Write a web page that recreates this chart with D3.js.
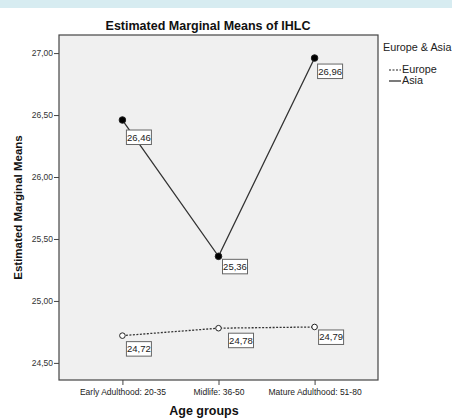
<!DOCTYPE html>
<html><head><meta charset="utf-8">
<script src="https://cdn.jsdelivr.net/npm/d3@7"></script>
<style>html,body{margin:0;padding:0;background:#fff;}svg{display:block;font-family:"Liberation Sans",Arial,sans-serif;}</style>
</head><body>
<script>
const categories = ["Early Adulthood: 20-35", "Midlife:  36-50", "Mature Adulthood: 51-80"];
const europe = [24.72, 24.78, 24.79];
const asia = [26.46, 25.36, 26.96];
const yTicks = [24.5, 25.0, 25.5, 26.0, 26.5, 27.0];
const seriesNames = ["Europe", "Asia"];

// label box offsets (layout only)
const labelOffsets = {
  Europe: [[4, 6], [10, 5], [4, 3]],
  Asia: [[4, 10], [4, 3], [3, 6]]
};

const W = 452, H = 420;
const frame = {left: 59, right: 378, top: 35, bottom: 380};
const svg = d3.select("body").append("svg").attr("width", W).attr("height", H);

svg.append("rect").attr("x", 0).attr("y", 0).attr("width", W).attr("height", 8).attr("fill", "#d7ecf1");

const x = d3.scalePoint().domain(categories).range([frame.left, frame.right]).padding(0.66);
const y = d3.scaleLinear().domain([24.362, 27.146]).range([frame.bottom, frame.top]);

svg.append("rect").attr("x", frame.left).attr("y", frame.top)
  .attr("width", frame.right - frame.left).attr("height", frame.bottom - frame.top)
  .attr("fill", "#f0f0f0").attr("stroke", "#444").attr("stroke-width", 1.2);

const fmt = d => d3.format(".2f")(d).replace(".", ",");

const yAxis = svg.append("g").attr("transform", `translate(${frame.left},0)`)
  .call(d3.axisLeft(y).tickValues(yTicks).tickFormat(fmt).tickSize(5).tickPadding(1));
yAxis.select(".domain").remove();
yAxis.selectAll(".tick line").attr("stroke", "#444");
yAxis.selectAll(".tick text").attr("font-size", 8.5).attr("fill", "#333");

const xAxis = svg.append("g").attr("transform", `translate(0,${frame.bottom})`)
  .call(d3.axisBottom(x).tickSize(5).tickPadding(4));
xAxis.select(".domain").remove();
xAxis.selectAll(".tick line").attr("stroke", "#444");
xAxis.selectAll(".tick text").attr("font-size", 8.5).attr("fill", "#222");

svg.append("text").attr("x", 208).attr("y", 29.5).attr("text-anchor", "middle")
  .attr("font-size", 12.5).attr("font-weight", "bold").attr("fill", "#111").text("Estimated Marginal Means of IHLC");
svg.append("text").attr("x", 204).attr("y", 415).attr("text-anchor", "middle")
  .attr("font-size", 12.5).attr("font-weight", "bold").attr("fill", "#111").text("Age groups");
svg.append("text").attr("transform", `translate(22,${(frame.top + frame.bottom) / 2}) rotate(-90)`)
  .attr("text-anchor", "middle").attr("font-size", 11.5).attr("font-weight", "bold").attr("fill", "#111")
  .text("Estimated Marginal Means");

const line = d3.line().x((d, i) => x(categories[i])).y(d => y(d));
const series = [
  {name: "Europe", values: europe, dash: "2,1.5", filled: false},
  {name: "Asia", values: asia, dash: null, filled: true}
];

series.forEach(s => {
  svg.append("path").datum(s.values).attr("d", line).attr("fill", "none")
    .attr("stroke", "#333").attr("stroke-width", 1.3).attr("stroke-dasharray", s.dash);
  svg.selectAll(null).data(s.values).enter().append("circle")
    .attr("cx", (d, i) => x(categories[i])).attr("cy", d => y(d))
    .attr("r", s.filled ? 3.3 : 2.8)
    .attr("fill", s.filled ? "#000" : "#fff").attr("stroke", "#222").attr("stroke-width", 1);
  const g = svg.selectAll(null).data(s.values).enter().append("g")
    .attr("transform", (d, i) => `translate(${x(categories[i]) + labelOffsets[s.name][i][0]},${y(d) + labelOffsets[s.name][i][1]})`);
  g.append("rect").attr("width", 25).attr("height", 14.5).attr("fill", "#fff").attr("stroke", "#666").attr("stroke-width", 1);
  g.append("text").attr("x", 12.5).attr("y", 10.5).attr("text-anchor", "middle")
    .attr("font-size", 9.5).attr("fill", "#222").text(d => fmt(d));
});

// Legend
svg.append("text").attr("x", 383).attr("y", 51).attr("font-size", 10.8).attr("fill", "#222").text("Europe & Asia");
series.forEach((s, i) => {
  const ly = 70 + i * 11;
  svg.append("line").attr("x1", 389).attr("x2", 401).attr("y1", ly).attr("y2", ly)
    .attr("stroke", "#222").attr("stroke-width", 1.2).attr("stroke-dasharray", s.dash);
  svg.append("text").attr("x", 402).attr("y", ly + 3).attr("font-size", 10.8).attr("fill", "#222").text(s.name);
});
</script>
</body></html>
